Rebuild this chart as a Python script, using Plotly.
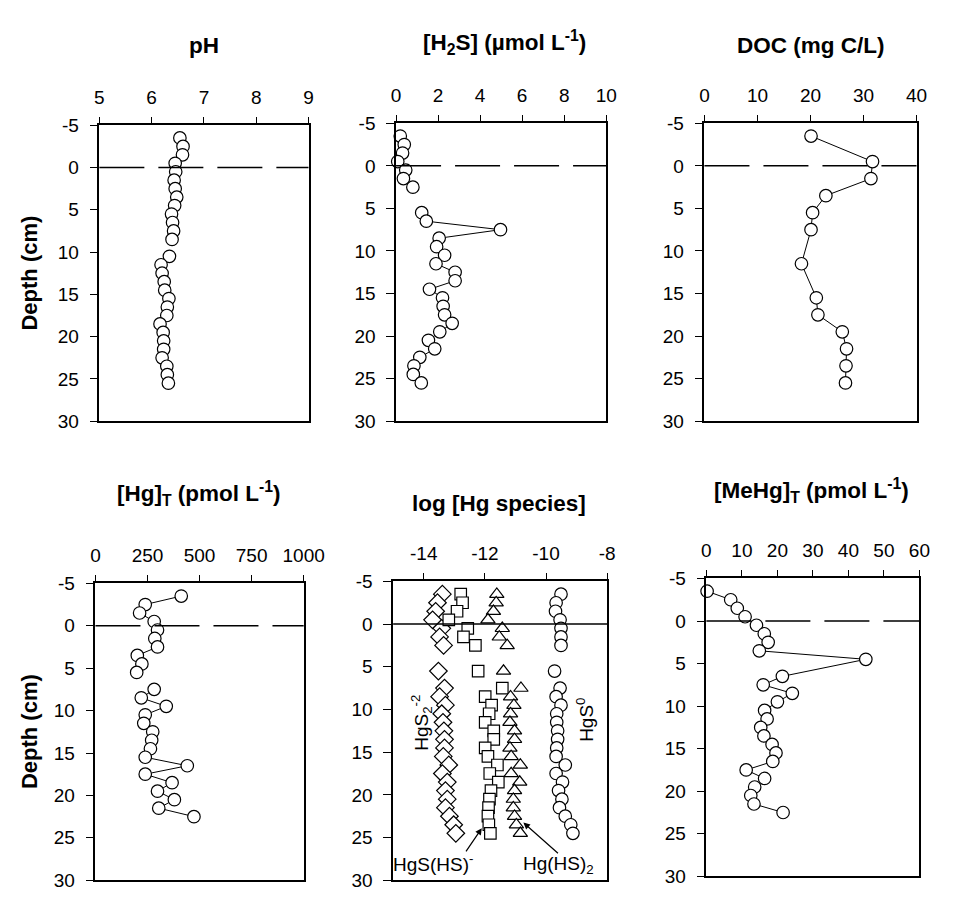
import plotly.graph_objects as go

# ---------------- data ----------------
# pH
ph_depth = [-3.5, -2.5, -1.5, -0.5, 0.5, 1.5, 2.5, 3.5, 4.5, 5.5, 6.5, 7.5, 8.5, 9.5,
            10.5, 11.5, 12.5, 13.5, 14.5, 15.5, 16.5, 17.5, 18.5, 19.5, 20.5, 21.5, 22.5,
            23.5, 24.5, 25.5]
ph_val = [6.54, 6.60, 6.59, 6.45, 6.46, 6.43, 6.45, 6.48, 6.44, 6.38, 6.40, 6.42, 6.39, None,
          6.34, 6.18, 6.20, 6.24, 6.25, 6.33, 6.30, 6.29, 6.16, 6.22, 6.23, 6.23, 6.20,
          6.29, 6.30, 6.32]

# H2S (umol/L)
h2s_depth = [-3.5, -2.5, -1.5, -0.5, 0.5, 1.5, 2.5, 3.5, 4.5, 5.5, 6.5, 7.5, 8.5, 9.5,
             10.5, 11.5, 12.5, 13.5, 14.5, 15.5, 16.5, 17.5, 18.5, 19.5, 20.5, 21.5,
             22.5, 23.5, 24.5, 25.5]
h2s_val = [0.20, 0.39, 0.31, 0.08, 0.46, 0.35, 0.80, None, None, 1.22, 1.44, 4.97, 2.05, 1.93,
           2.31, 1.90, 2.81, 2.81, 1.59, 2.21, 2.24, 2.31, 2.67, 2.08, 1.54, 1.84,
           1.13, 0.85, 0.82, 1.20]

# DOC (mg C/L)
doc_depth = [-3.5, -0.5, 1.5, 3.5, 5.5, 7.5, 11.5, 15.5, 17.5, 19.5, 21.5, 23.5, 25.5]
doc_val = [20.1, 31.7, 31.4, 22.9, 20.4, 20.1, 18.3, 21.1, 21.4, 26.0, 26.8, 26.7, 26.6]

# Total Hg (pmol/L)
hg_depth = [-3.5, -2.5, -1.5, -0.5, 0.5, 1.5, 2.5, 3.5, 4.5, 5.5, 6.5, 7.5, 8.5, 9.5,
            10.5, 11.5, 12.5, 13.5, 14.5, 15.5, 16.5, 17.5, 18.5, 19.5, 20.5, 21.5, 22.5]
hg_val = [412, 239, 212, 282, 298, 285, 298, 201, 223, 198, None, 282, 220, 340,
          239, 232, 275, 270, 264, 239, 441, 239, 368, 298, 379, 304, 473]

# log [Hg species]
sp_depth = [-3.5, -2.5, -1.5, -0.5, 0.5, 1.5, 2.5, 5.5, 7.5, 8.5, 9.5, 10.5, 11.5, 12.5,
            13.5, 14.5, 15.5, 16.5, 17.5, 18.5, 19.5, 20.5, 21.5, 22.5, 23.5, 24.5]
hgs2 = [-13.39, -13.55, -13.61, -13.71, -13.41, -13.48, -13.35, -13.52, -13.32, -13.48,
        -13.29, -13.41, -13.37, -13.34, -13.32, -13.32, -13.36, -13.18, -13.39, -13.23,
        -13.29, -13.23, -13.29, -13.16, -13.02, -12.95]
hgshs = [-12.79, -12.73, -12.91, -13.18, -12.56, -12.70, -12.31, -12.22, -11.43, -11.99,
         -11.78, -11.86, -11.99, -11.71, -11.71, -11.99, -11.90, -11.59, -11.84, -11.56,
         -11.80, -11.85, -11.88, -11.90, -11.87, -11.82]
hghs2 = [-11.61, -11.63, -11.72, -11.90, -11.43, -11.53, -11.27, -11.39, -10.82, -11.16,
         -11.05, -11.16, -11.18, -11.03, -11.03, -11.18, -11.14, -10.84, -11.14, -10.86,
         -11.03, -11.07, -11.07, -11.03, -10.97, -10.84]
hgs0 = [-9.51, -9.67, -9.69, -9.54, -9.51, -9.51, -9.51, -9.72, -9.54, -9.67,
        -9.51, -9.65, -9.65, -9.62, -9.62, -9.65, -9.67, -9.37, -9.67, -9.46,
        -9.59, -9.48, -9.56, -9.37, -9.19, -9.12]

# MeHg (pmol/L)
mehg_depth = [-3.5, -2.5, -1.5, -0.5, 0.5, 1.5, 2.5, 3.5, 4.5, 6.5, 7.5, 8.5, 9.5, 10.5,
              11.5, 12.5, 13.5, 14.5, 15.5, 16.5, 17.5, 18.5, 19.5, 20.5, 21.5, 22.5]
mehg_val = [0.2, 6.85, 8.7, 10.9, 14.1, 16.3, 17.4, 14.9, 44.9, 21.4, 16.0, 24.2, 20.0, 16.4,
            17.1, 15.3, 16.2, 18.5, 19.6, 18.7, 11.2, 16.4, 13.6, 12.5, 13.4, 21.6]

# tick values / labels (hyphen minus as in the original)
depth_ticks = [-5, 0, 5, 10, 15, 20, 25, 30]
depth_labels = ["-5", "0", "5", "10", "15", "20", "25", "30"]
x_ticks = [
    [5, 6, 7, 8, 9],
    [0, 2, 4, 6, 8, 10],
    [0, 10, 20, 30, 40],
    [0, 250, 500, 750, 1000],
    [-14, -12, -10, -8],
    [0, 10, 20, 30, 40, 50, 60],
]
x_labels = [
    ["5", "6", "7", "8", "9"],
    ["0", "2", "4", "6", "8", "10"],
    ["0", "10", "20", "30", "40"],
    ["0", "250", "500", "750", "1000"],
    ["-14", "-12", "-10", "-8"],
    ["0", "10", "20", "30", "40", "50", "60"],
]
x_ranges = [(5, 9), (0, 10), (0, 40), (0, 1000), (-15, -8), (0, 60)]

titles = ["pH", "[H<sub>2</sub>S] (µmol L<sup>-1</sup>)", "DOC (mg C/L)",
          "[Hg]<sub>T</sub> (pmol L<sup>-1</sup>)", "log [Hg species]",
          "[MeHg]<sub>T</sub> (pmol L<sup>-1</sup>)"]
y_title = "Depth (cm)"

# ---------------- layout geometry (pixels) ----------------
W, H = 956, 902
panels = [  # x0, x1, ytop, ybottom
    (97, 312, 118, 421),
    (402, 618, 116, 421),
    (719, 937, 116, 421),
    (93, 307, 587, 891),
    (399, 619, 585, 891),
    (721, 940, 582, 887),
]
title_pos = [(205, 36), (513, 33), (828, 36), (199, 495), (508, 505), (829, 492)]

FONT = "Liberation Sans, Arial, Helvetica, sans-serif"
TICK_SIZE = 19
fig = go.Figure()


def add_profile(idx, xv, yv, mode="lines+markers", symbol="circle", size=12.5):
    fig.add_trace(go.Scatter(
        x=xv, y=yv, mode=mode,
        xaxis="x" if idx == 0 else f"x{idx+1}",
        yaxis="y" if idx == 0 else f"y{idx+1}",
        line=dict(color="black", width=1),
        marker=dict(symbol=symbol, size=size, color="white",
                    line=dict(color="black", width=1.2)),
        connectgaps=False, cliponaxis=False, showlegend=False, hoverinfo="x+y"))


add_profile(0, ph_val, ph_depth)
add_profile(1, h2s_val, h2s_depth)
add_profile(2, doc_val, doc_depth)
add_profile(3, hg_val, hg_depth)
add_profile(4, hgs2, sp_depth, mode="markers", symbol="diamond", size=13.5)
add_profile(4, hgshs, sp_depth, mode="markers", symbol="square", size=11.5)
add_profile(4, hghs2, sp_depth, mode="markers", symbol="triangle-up", size=12.5)
add_profile(4, hgs0, sp_depth, mode="markers", symbol="circle", size=12.5)
add_profile(5, mehg_val, mehg_depth)

layout = dict(width=W, height=H, margin=dict(l=0, r=0, t=0, b=0),
              paper_bgcolor="white", plot_bgcolor="white",
              font=dict(family=FONT, size=TICK_SIZE, color="black"),
              showlegend=False)

annotations = []
shapes = []
for i, (x0, x1, yt, yb) in enumerate(panels):
    sx = "" if i == 0 else str(i + 1)
    lo, hi = x_ranges[i]
    layout[f"xaxis{sx}"] = dict(
        domain=[x0 / W, x1 / W], range=[lo, hi],
        tickmode="array", tickvals=x_ticks[i], ticktext=x_labels[i],
        side="top", anchor=f"y{sx}", showline=True, linecolor="black", linewidth=1.5,
        mirror=True, ticks="outside", ticklen=7, tickwidth=1.2, tickcolor="black",
        ticklabelstandoff=5,
        showgrid=False, zeroline=False, tickfont=dict(size=TICK_SIZE, family=FONT),
        fixedrange=True)
    layout[f"yaxis{sx}"] = dict(
        domain=[1 - yb / H, 1 - yt / H], range=[30, -5],
        tickmode="array", tickvals=depth_ticks, ticktext=depth_labels,
        anchor=f"x{sx}", showline=True, linecolor="black", linewidth=1.5,
        mirror=True, ticks="outside", ticklen=8, tickwidth=1.2, tickcolor="black",
        ticklabelstandoff=7,
        showgrid=False, zeroline=False, tickfont=dict(size=TICK_SIZE, family=FONT),
        fixedrange=True)
    # panel title
    tx, ty = title_pos[i]
    annotations.append(dict(text=f"<b>{titles[i]}</b>", xref="paper", yref="paper",
                            x=tx / W, y=1 - ty / H, showarrow=False,
                            font=dict(size=22.5, family=FONT), xanchor="center", yanchor="middle"))
    # sediment-water interface line at depth 0
    shapes.append(dict(type="line", xref=f"x{sx} domain", yref=f"y{sx}", x0=0, x1=1, y0=0, y1=0,
                       line=dict(color="black", width=1.5,
                                 dash="solid" if i == 4 else "45px,14px")))

# Depth axis titles
for (x0, x1, yt, yb) in (panels[0], panels[3]):
    annotations.append(dict(text=f"<b>{y_title}</b>", xref="paper", yref="paper",
                            x=25 / W, y=1 - (yt + yb) / 2 / H, showarrow=False, textangle=-90,
                            font=dict(size=22, family=FONT), xanchor="center", yanchor="middle"))

# species labels
LBL = dict(size=19, family=FONT)
annotations += [
    dict(text="HgS<sub>2</sub><sup>-2</sup>", xref="x5", yref="y5", x=-14.1, y=11.6,
         showarrow=False, textangle=-90, font=LBL),
    dict(text="HgS<sup>0</sup>", xref="x5", yref="y5", x=-8.72, y=11.2,
         showarrow=False, textangle=-90, font=LBL),
    dict(text="HgS(HS)<sup>-</sup>", xref="x5", yref="y5", x=-13.7, y=28.0,
         showarrow=False, font=LBL),
    dict(text="Hg(HS)<sub>2</sub>", xref="x5", yref="y5", x=-9.6, y=28.2,
         showarrow=False, font=LBL),
    dict(text="", xref="x5", yref="y5", x=-12.1, y=23.9, axref="x5", ayref="y5",
         ax=-12.65, ay=26.8, showarrow=True, arrowhead=2, arrowsize=1.1, arrowwidth=1.2,
         arrowcolor="black", standoff=0, startstandoff=0),
    dict(text="", xref="x5", yref="y5", x=-10.74, y=23.25, axref="x5", ayref="y5",
         ax=-9.56, ay=27.0, showarrow=True, arrowhead=2, arrowsize=1.1, arrowwidth=1.2,
         arrowcolor="black", standoff=0, startstandoff=0),
]

layout["annotations"] = annotations
layout["shapes"] = shapes
fig.update_layout(**layout)
fig.write_html("out.html")
